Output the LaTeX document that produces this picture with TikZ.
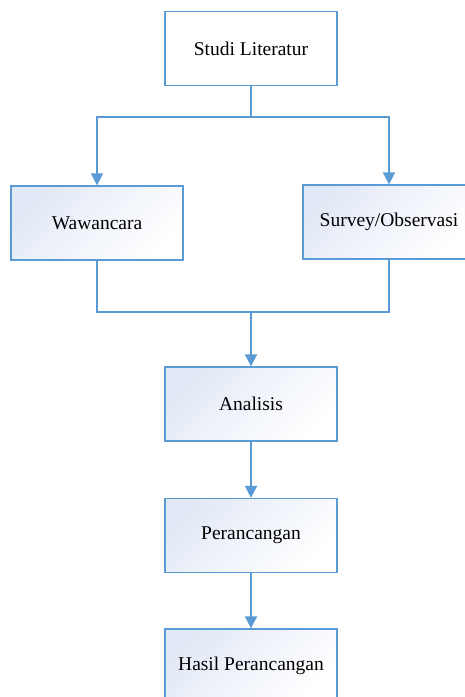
\documentclass[tikz,border=0pt]{standalone}
\usepackage{fontspec}
\setmainfont{Liberation Serif}
\usetikzlibrary{arrows.meta}
\definecolor{lblue}{RGB}{91,155,213}
\definecolor{shadeblue}{RGB}{226,233,246}
\begin{document}
\begin{tikzpicture}[x=1pt,y=-1pt,
  box/.style={draw=lblue, line width=1.3pt, minimum width=172pt, minimum height=74pt, inner sep=0pt,
    font=\fontsize{19.5}{22}\selectfont},
  gbox/.style={box, left color=shadeblue, right color=white, shading angle=45},
  conn/.style={draw=lblue, line width=1.8pt},
  arr/.style={conn, -{Triangle[width=12pt,length=12pt]}}]
\useasboundingbox (0,0) rectangle (464,697);
\node[box, fill=white] (studi) at (251,48.5) {Studi Literatur};
\node[gbox] (waw) at (97,223) {Wawancara};
\node[gbox] (sur) at (389,222) {Survey/Observasi};
\node[gbox] (ana) at (251,404) {Analisis};
\node[gbox] (per) at (251,535.5) {Perancangan};
\node[gbox] (has) at (251,666) {Hasil Perancangan};
\coordinate (j1) at (251,117);
\coordinate (j2) at (251,312);
\draw[conn] (studi.south) -- (j1);
\draw[arr] (j1) -| (waw.north);
\draw[arr] (j1) -| (sur.north);
\draw[conn] (waw.south) |- (j2);
\draw[conn] (sur.south) |- (j2);
\draw[arr] (j2) -- (ana.north);
\draw[arr] (ana.south) -- (per.north);
\draw[arr] (per.south) -- (has.north);
\end{tikzpicture}
\end{document}
